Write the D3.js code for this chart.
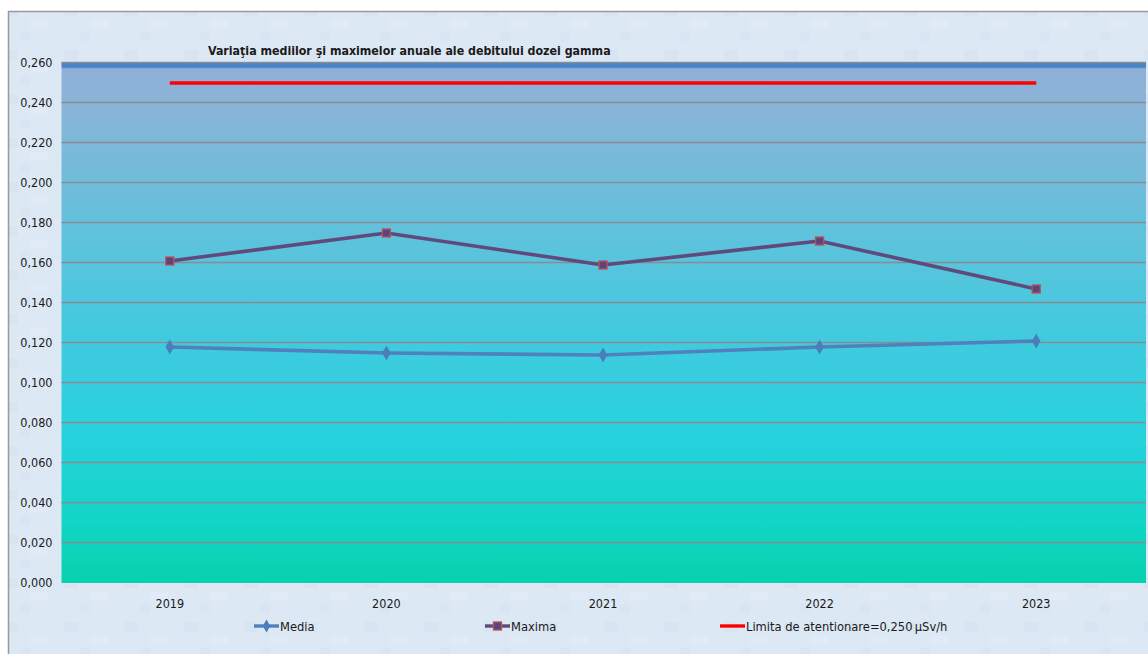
<!DOCTYPE html>
<html>
<head>
<meta charset="utf-8">
<script src="https://cdn.jsdelivr.net/npm/d3@7"></script>
<style>
  html, body { margin: 0; padding: 0; background: #ffffff; }
  svg { display: block; }
  text { font-family: "DejaVu Sans Condensed", "DejaVu Sans", sans-serif; fill: #1a1a1a; }
</style>
</head>
<body>
<svg id="chart" width="1148" height="654"></svg>
<script>
const years = ["2019", "2020", "2021", "2022", "2023"];
const media = [0.118, 0.115, 0.114, 0.118, 0.121];
const maxima = [0.161, 0.175, 0.159, 0.171, 0.147];
const limita = [0.250, 0.250, 0.250, 0.250, 0.250];
const yTickValues = [0, 0.02, 0.04, 0.06, 0.08, 0.10, 0.12, 0.14, 0.16, 0.18, 0.20, 0.22, 0.24, 0.26];
const titleText = "Variaţia mediilor şi maximelor anuale ale debitului dozei gamma";
const legendNames = ["Media", "Maxima", "Limita de atentionare=0,250\u202FµSv/h"];

const svg = d3.select("#chart");
const W = 1148, H = 654;
const plot = { left: 61.5, right: 1146, top: 63, bottom: 583 };

const defs = svg.append("defs");
const grad = defs.append("linearGradient").attr("id", "plotGrad")
  .attr("x1", 0).attr("y1", 0).attr("x2", 0).attr("y2", 1);
[[0, "#4a84c6"], [0.008, "#4a84c6"], [0.011, "#8eafd6"], [0.08, "#89b4d8"],
 [0.35, "#5cc3dc"], [0.55, "#3ecbdf"], [0.72, "#26d2dd"], [0.88, "#12d5c6"], [1, "#06d2ae"]]
  .forEach(([o, c]) => grad.append("stop").attr("offset", o).attr("stop-color", c));

// subtle texture for the outer background
const pat = defs.append("pattern").attr("id", "bgPat").attr("patternUnits", "userSpaceOnUse")
  .attr("width", 60).attr("height", 44);
pat.append("rect").attr("width", 60).attr("height", 44).attr("fill", "#dde8f5");
pat.append("rect").attr("x", 4).attr("y", 6).attr("width", 14).attr("height", 10).attr("fill", "#d6e3f2").attr("opacity", 0.7);
pat.append("rect").attr("x", 30).attr("y", 20).attr("width", 18).attr("height", 8).attr("fill", "#e2ecf7").attr("opacity", 0.8);
pat.append("rect").attr("x", 20).attr("y", 32).attr("width", 10).attr("height", 9).attr("fill", "#d8e4f2").attr("opacity", 0.7);

// cut-off heading glyph at the top
svg.append("text").attr("x", 994).attr("y", -6)
  .style("font-family", "DejaVu Sans, sans-serif").style("font-weight", "bold")
  .style("font-size", "26px").style("fill", "#000").text("g");

// outer frame
svg.append("rect").attr("x", 8.5).attr("y", 11.5).attr("width", W).attr("height", H)
  .attr("fill", "url(#bgPat)").attr("stroke", "#9a9a9a").attr("stroke-width", 1.5);

const x = d3.scaleBand().domain(years).range([plot.left, plot.right - 1.5]);
const cx = d => x(d) + x.bandwidth() / 2;
const y = d3.scaleLinear().domain([0, 0.26]).range([plot.bottom, plot.top]);

// plot area
svg.append("rect").attr("x", plot.left).attr("y", plot.top)
  .attr("width", plot.right - plot.left).attr("height", plot.bottom - plot.top)
  .attr("fill", "url(#plotGrad)");

// gridlines
svg.append("g").selectAll("line").data(yTickValues.filter(v => v > 0)).join("line")
  .attr("x1", plot.left).attr("x2", plot.right)
  .attr("y1", d => Math.round(y(d)) - 0.5).attr("y2", d => Math.round(y(d)) - 0.5)
  .attr("stroke", "#878d92").attr("stroke-width", 1.6);

// y axis
const fmt = d => d3.format(".3f")(d).replace(".", ",");
const yAxis = svg.append("g").attr("transform", `translate(${plot.left},0)`)
  .call(d3.axisLeft(y).tickValues(yTickValues).tickFormat(fmt).tickSize(0).tickPadding(9));
yAxis.select(".domain").remove();
yAxis.selectAll("text").style("font-size", "12.5px").style("fill", "#1a1a1a").attr("dy", "0.3em");

// x axis
const xAxis = svg.append("g").attr("transform", `translate(0,${plot.bottom})`)
  .call(d3.axisBottom(x).tickSize(0).tickPadding(16));
xAxis.select(".domain").remove();
xAxis.selectAll("text").style("font-size", "12.5px").style("fill", "#1a1a1a");

// title
svg.append("text").attr("x", 208).attr("y", 55)
  .style("font-weight", "bold").style("font-size", "12.3px").text(titleText);

const line = d3.line().x((d, i) => cx(years[i])).y(d => y(d));

// limit line
svg.append("path").datum(limita).attr("d", line)
  .attr("fill", "none").attr("stroke", "#ff0000").attr("stroke-width", 3.4);

// maxima
svg.append("path").datum(maxima).attr("d", line)
  .attr("fill", "none").attr("stroke", "#604a7b").attr("stroke-width", 3.6);
svg.append("g").selectAll("rect").data(maxima).join("rect")
  .attr("x", (d, i) => cx(years[i]) - 4).attr("y", d => y(d) - 4)
  .attr("width", 8).attr("height", 8)
  .attr("fill", "#5a4583").attr("stroke", "#c0504d").attr("stroke-width", 1.3);

// media
svg.append("path").datum(media).attr("d", line)
  .attr("fill", "none").attr("stroke", "#4f81bd").attr("stroke-width", 3.6);
const diamond = d3.symbol().type(d3.symbolDiamond).size(64);
svg.append("g").selectAll("path").data(media).join("path")
  .attr("d", diamond)
  .attr("transform", (d, i) => `translate(${cx(years[i])},${y(d)})`)
  .attr("fill", "#4a7ebb");

// legend
const legY = 626;
const legItems = [
  { x: 254, name: legendNames[0], color: "#4f81bd", marker: "diamond" },
  { x: 485, name: legendNames[1], color: "#604a7b", marker: "square" },
  { x: 720, name: legendNames[2], color: "#ff0000", marker: "none" }
];
const lg = svg.append("g");
legItems.forEach(it => {
  lg.append("line").attr("x1", it.x).attr("x2", it.x + 25).attr("y1", legY).attr("y2", legY)
    .attr("stroke", it.color).attr("stroke-width", 3.4);
  if (it.marker === "diamond") {
    lg.append("path").attr("d", d3.symbol().type(d3.symbolDiamond).size(48))
      .attr("transform", `translate(${it.x + 12.5},${legY})`).attr("fill", "#4a7ebb");
  } else if (it.marker === "square") {
    lg.append("rect").attr("x", it.x + 8.5).attr("y", legY - 4).attr("width", 8).attr("height", 8)
      .attr("fill", "#5a4583").attr("stroke", "#c0504d").attr("stroke-width", 1.3);
  }
  lg.append("text").attr("x", it.x + 26).attr("y", legY + 5)
    .style("font-size", "12.8px").text(it.name);
});
</script>
</body>
</html>
